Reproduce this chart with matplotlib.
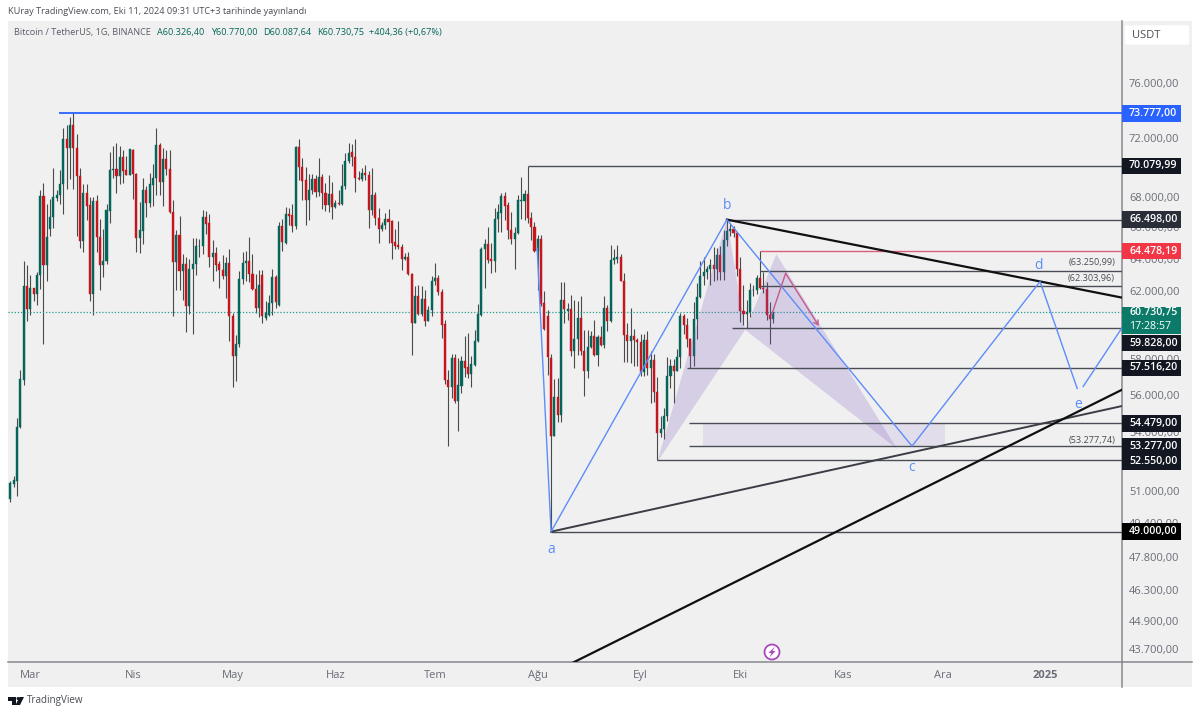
import numpy as np
import matplotlib
matplotlib.use('Agg')
import matplotlib.pyplot as plt
from matplotlib.lines import Line2D
from matplotlib.patches import Rectangle, Polygon, Ellipse, FancyBboxPatch
from matplotlib.ticker import NullLocator

plt.rcParams['font.family'] = ['Open Sans', 'DejaVu Sans']

# daily candles, Feb 24 to Oct 11 2024. days are counted from Mar 1
days = np.arange(-6, 225)
opens = [50570,51330,51480,54300,56820,62290,60950,62220,61800,62960,
         68080,63590,65890,66680,67940,68150,68830,71950,71320,72960,
         71320,69370,65110,68280,67470,61800,67740,65370,63590,63840,
         67080,69780,69850,69370,70680,69780,69440,71170,69500,65310,
         65760,68420,67600,68760,69230,71530,68960,70540,69850,67010,
         63780,65500,63210,63650,61130,63340,63650,64790,64790,66680,
         66280,64090,64350,63650,63280,62900,63720,60520,58180,58870,
         62720,63720,63840,63030,62160,61010,62960,60410,60580,61310,
         62840,61190,66090,64990,66880,66810,66090,71390,69990,69100,
         67810,68420,69170,68350,69300,68280,67470,68210,67340,67600,
         67540,68690,70400,71030,70680,69230,69170,69570,69440,67140,
         68150,66610,65890,66150,66550,66420,65050,64860,64730,63970,
         64090,63030,60110,61680,60640,61550,60230,60890,62650,62780,
         61980,60050,56820,56430,58060,55710,56480,57890,57550,57150,
         57660,59050,60580,64600,64920,63970,63840,66550,66940,68080,
         67470,65820,65240,65630,67740,67740,68210,66610,66020,64470,
         65240,61310,60520,58060,53810,55880,54950,61490,60830,60950,
         58470,59170,60410,58470,57320,58700,59340,58240,59280,58820,
         61010,60230,63910,63970,64090,62650,59420,59030,59360,59120,
         58970,57300,59130,57490,57970,56180,53960,54160,54870,57040,
         57640,57340,58130,60500,60000,59180,58190,60310,61650,62950,
         63200,63350,63580,63340,64260,63150,65170,65770,65860,65600,
         63330,60810,60650,60750,62070,62090,62820,62220,62130,60580,60326]
closes = [51380,51530,54300,56870,62290,60950,62220,61800,62960,68080,
          63590,65370,66680,68010,68150,68830,71950,71320,72960,71320,
          69370,65110,68280,67410,61800,67740,65370,63590,63840,67140,
          69780,69850,69370,70680,69710,69440,71250,69500,65310,65820,
          68420,67600,68830,69230,71530,68960,70540,69850,67010,63780,
          65500,63210,63650,61130,63340,63650,64790,64830,66680,66220,
          64090,64350,63590,63280,62900,63720,60520,58180,58870,62720,
          63720,63840,63030,62160,61010,62350,60520,60700,61310,62840,
          61370,66090,65050,66880,66750,66090,71390,69990,69030,67810,
          68420,69170,68350,69300,68280,67470,68210,67340,67600,67540,
          68690,70400,70960,70680,69230,69170,69570,69440,67140,68150,
          66610,65890,66150,66550,66350,64990,64790,64730,63970,64090,
          63030,60110,61680,60640,61550,60230,60890,62650,62780,61980,
          59990,56820,56430,58060,55660,56540,57890,57490,57150,57720,
          59050,60640,64600,64920,63910,63840,66550,67010,68080,67410,
          65820,65240,65630,67810,67810,68210,66610,66020,64470,65240,
          61250,59760,58120,53810,55880,54950,61490,60950,60950,58470,
          59170,60410,58470,57320,58700,59340,58240,59280,58820,61010,
          60230,63910,64030,64090,62650,59420,59030,59360,59120,58970,
          57300,59130,57490,57970,56180,53960,54160,54870,57040,57640,
          57340,58130,60500,60000,59180,58190,60310,61650,62950,63200,
          63350,63580,63340,64260,63150,65170,65770,65860,65600,63330,
          60810,60650,60750,62070,62090,62820,62220,62130,60580,60326,60731]
highs = [51480,51740,54790,57380,63840,63590,62960,62220,63150,68420,
         68890,67540,67870,69920,68420,69780,72745,72960,73540,73777,
         72310,69920,68830,68830,68010,68010,68150,66550,65890,67540,
         71030,71460,71670,71460,71170,70750,71250,71250,69570,67670,
         69230,68690,69570,70190,72745,71670,71320,71170,71170,67810,
         65820,66750,64280,64090,63970,65310,65310,65240,67140,67080,
         66880,65180,64730,63840,64220,64090,64600,60700,59400,63210,
         64410,64470,65370,64280,63030,63280,63280,61430,61740,63340,
         62960,66350,66550,67340,67270,67540,71460,71950,70610,69990,
         69500,69500,69440,70610,69500,68890,69440,68960,67810,68420,
         70190,70960,71670,71600,71950,69710,69920,70120,69710,69920,
         68350,67270,66350,66940,67210,66480,65890,66420,64920,64350,
         64410,63090,62290,62350,62290,62100,61130,62900,63720,62960,
         62160,60290,57380,58290,58290,58060,58180,59340,59520,58180,
         59700,61250,64730,65240,66020,64990,67270,67540,68280,68350,
         67670,67010,66020,68150,69300,68420,70080,67010,66350,65500,
         65500,62040,60890,58290,56870,56930,62590,62530,61310,61740,
         61490,61430,61680,59700,59700,59640,60290,59400,59930,61680,
         61190,64860,64600,64860,64280,63090,60110,61010,59760,59220,
         59460,59460,59640,58500,58300,56990,54850,55300,58120,58040,
         58000,58590,60670,60660,60400,59210,61320,62490,63870,64130,
         63560,64000,64750,64700,64810,65840,66498,66260,66080,65630,
         64130,62390,61470,62480,62370,63000,64478,63200,62540,61320,60770]
lows = [50420,51170,50720,54250,56540,60230,60580,61430,61190,62160,
        58870,62650,65440,65950,67740,67540,66880,68550,69170,68490,
        65440,64670,64410,66480,61430,60580,64410,62100,62840,63650,
        66280,69230,68280,68830,68890,69440,69440,67870,64410,64350,
        64920,66680,67340,67410,68150,68150,67410,69440,66940,60520,
        62100,62100,61490,59580,60640,59460,62960,64090,64280,65560,
        63470,62650,63210,62220,62720,61610,59050,56430,56760,58700,
        62410,62650,62530,62100,60700,60470,60110,60290,60520,60580,
        61010,61130,64470,64920,66150,65690,65890,69100,67810,66150,
        66480,68210,68010,68080,67210,67080,67010,66550,67270,67470,
        67470,68490,70260,70060,68350,69100,69030,69100,65950,66810,
        66150,64990,65760,65890,64990,63970,64600,64600,63280,63910,
        62960,58240,60110,60580,60520,59930,60230,60520,62350,61740,
        59230,56590,53290,55820,55600,54090,56100,56980,56930,56430,
        57610,58990,60520,62220,63720,63090,63150,65690,65690,66480,
        65240,64920,63340,65560,66550,66480,66280,65180,64410,62100,
        61130,59700,57100,49000,53790,54570,54570,60110,60290,58180,
        57490,58240,58240,55930,56930,58640,58180,57610,58760,58640,
        59640,60170,63650,63720,62600,57840,57840,57780,57610,57640,
        57040,57040,57100,55600,55620,52550,53740,53640,54590,56400,
        55550,57320,57500,59450,58700,57500,57610,59170,61570,62350,
        62760,62400,62600,62700,62670,62670,64820,65420,65370,62900,
        60160,59980,59830,60460,61700,61820,62130,61860,60300,58900,60088]
last_price = 60730.75

# axis labels
month_days = [0, 31, 61, 92, 122, 153, 184, 214, 245, 275, 306]
month_labels = ['Mar', 'Nis', 'May', 'Haz', 'Tem', 'Ağu', 'Eyl', 'Eki', 'Kas', 'Ara', '2025']
price_ticks = [76000, 72000, 68000, 66000, 64000, 62000, 58000, 56000, 54000,
               51000, 49400, 47800, 46300, 44900, 43700]
price_tick_labels = ['76.000,00', '72.000,00', '68.000,00', '66.000,00', '64.000,00',
                     '62.000,00', '58.000,00', '56.000,00', '54.000,00', '51.000,00',
                     '49.400,00', '47.800,00', '46.300,00', '44.900,00', '43.700,00']

# horizontal rays drawn on the chart: price and first day
ray_prices = [70079.99, 66498, 63250.99, 62303.96, 59828, 57516.2, 54479, 53277.74, 52550, 49000]
ray_days = [150, 210, 220, 220, 211.6, 198, 198.6, 198.6, 189, 157]
blue_ray = (73777, 8.7)
red_ray = (64478.19, 220)

# trend lines
trend_days_1 = [210, 329.1]
trend_prices_1 = [66498, 61610]
trend_days_2 = [157, 329.1]
trend_prices_2 = [49000, 55410]
trend_days_3 = [163.6, 329.1]
trend_prices_3 = [43107, 56300]

# blue a-b-c-d-e path
wave_days = [152.8, 157, 210, 265.8, 304.4, 315.6]
wave_prices = [64670, 49000, 66498, 53277, 62590, 56370]
wave_end_days = [317.4, 329.1]
wave_end_prices = [56480, 59820]
wave_names = ['a', 'b', 'c', 'd', 'e']
wave_name_days = [157, 210, 265.8, 303.8, 315.8]
wave_name_prices = [48170, 67450, 52150, 63560, 55500]

# harmonic pattern shapes
xab_days = [189, 210, 215.5]
xab_prices = [52450, 66498, 59700]
bcd_days = [215.5, 224.9, 261.3]
bcd_prices = [59700, 64280, 53130]
box_days = [202.8, 275.8]
box_prices = [53277, 54479]

# pink projection
proj_days = [223.5, 227.7, 237.7]
proj_prices = [60580, 63090, 59930]

# price tags on the scale: where the tag sits, its text, its colour
tag_prices = [73777, 70079.99, 66498, 64478.19, 58930, 57516.2, 54479, 53277, 52480, 49000]
tag_labels = ['73.777,00', '70.079,99', '66.498,00', '64.478,19', '59.828,00',
              '57.516,20', '54.479,00', '53.277,00', '52.550,00', '49.000,00']
tag_colors = ['#2962ff', '#131722', '#2a2e39', '#f23645', '#131722',
              '#131722', '#131722', '#131722', '#131722', '#000000']

note_labels = ['(63.250,99)', '(62.303,96)', '(53.277,74)']
note_prices = [63780, 62780, 53560]

W, H = 1200, 715
BG = '#f0f0f0'
GREEN = '#04665a'
RED = '#c5161d'
BLUE = '#5c8dfa'
TEXT = '#6a6d78'


def fx(x):
    return x / W


def fy(y):
    return 1 - y / H


fig = plt.figure(figsize=(12, 7.15), dpi=100, facecolor='white')
fig.add_artist(Rectangle((fx(8), fy(687)), 1184 / W, 666 / H, transform=fig.transFigure,
                         fc=BG, ec='none', zorder=-5))

ax = fig.add_axes([fx(8), fy(662), 1114 / W, 641 / H], facecolor='none')
ax.set_yscale('log')
ax.set_xlim(-6.7, 329.1)
ax.set_ylim(43133, 80762)
right_day = ax.get_xlim()[1]

# candles
o = np.array(opens, dtype=float)
c = np.array(closes, dtype=float)
up = c >= o
ax.vlines(days, lows, highs, color='#4a4a4a', lw=0.8, zorder=2)
colors = np.where(up, GREEN, RED)
ax.bar(days, np.abs(c - o), bottom=np.minimum(o, c), width=0.62, color=colors,
       edgecolor=colors, lw=0.3, zorder=3)

# shapes
ax.add_patch(Polygon(np.column_stack([xab_days, xab_prices]), fc='#7e57c2', alpha=0.22, ec='none', zorder=4))
ax.add_patch(Polygon(np.column_stack([bcd_days, bcd_prices]), fc='#7e57c2', alpha=0.22, ec='none', zorder=4))
ax.fill_between(box_days, box_prices[0], box_prices[1], color='#7e57c2', alpha=0.12, lw=0, zorder=4)

ax.axhline(last_price, color='#1f9e8a', lw=0.9, ls=(0, (1, 1.5)), zorder=2)

# rays and trend lines
for p, d in zip(ray_prices, ray_days):
    ax.hlines(p, d, right_day, color='#4a4d55', lw=1.0, zorder=5)
ax.hlines(blue_ray[0], blue_ray[1], right_day, color='#2962ff', lw=1.3, zorder=5)
ax.hlines(red_ray[0], red_ray[1], right_day, color='#d9607a', lw=1.0, zorder=5)
ax.plot(trend_days_1, trend_prices_1, color='#101010', lw=1.6, zorder=5)
ax.plot(trend_days_2, trend_prices_2, color='#3a3d45', lw=1.4, zorder=5)
ax.plot(trend_days_3, trend_prices_3, color='#101010', lw=1.6, zorder=5)

# blue wave
ax.plot(wave_days, wave_prices, color=BLUE, lw=1.0, zorder=6)
ax.plot(wave_end_days, wave_end_prices, color=BLUE, lw=1.0, zorder=6)
for name, d, p in zip(wave_names, wave_name_days, wave_name_prices):
    ax.text(d, p, name, color=BLUE, fontsize=10, ha='center', va='center', zorder=7)

# projection arrow
ax.plot(proj_days[:2], proj_prices[:2], color='#c65a8c', lw=1.0, zorder=6)
ax.annotate('', xy=(proj_days[2], proj_prices[2]), xytext=(proj_days[1], proj_prices[1]),
            arrowprops=dict(arrowstyle='->,head_length=0.3,head_width=0.18', color='#c65a8c',
                            lw=1.0, shrinkA=0, shrinkB=0), zorder=6)

# notes at the end of the rays
for txt, p in zip(note_labels, note_prices):
    ax.text(right_day - 2.1, p, txt, color='#4a4d55', fontsize=6.6, ha='right', va='center', zorder=7)

# axes
ax.set_xticks(month_days)
ax.set_xticklabels(month_labels, fontsize=8, color=TEXT)
ax.get_xticklabels()[-1].set_fontweight('bold')
ax.tick_params(axis='x', length=0, pad=6)
ax.yaxis.tick_right()
ax.set_yticks(price_ticks)
ax.set_yticklabels(price_tick_labels, fontsize=8.0, color=TEXT)
ax.yaxis.set_minor_locator(NullLocator())
ax.tick_params(axis='y', which='both', length=0, pad=5)
for s in ['top', 'left']:
    ax.spines[s].set_visible(False)
for s in ['right', 'bottom']:
    ax.spines[s].set_color('#85888f')
    ax.spines[s].set_linewidth(1.1)

# price tags, half height is given in log units of the scale
tag_tr = ax.get_yaxis_transform()
half = 8.3 / 1022
tag_w = 59 / 1114
for p, txt, col in zip(tag_prices, tag_labels, tag_colors):
    lo, hi = p * np.exp(-half), p * np.exp(half)
    ax.add_patch(Rectangle((1, lo), tag_w, hi - lo, transform=tag_tr, fc=col, ec='none',
                           clip_on=False, zorder=10))
    ax.text(1 + 7 / 1114, p, txt, transform=tag_tr, color='white', fontsize=7.7,
            fontweight='semibold', va='center', ha='left', clip_on=False, zorder=11)

# last price tag has the countdown under it
lo, hi = 59470, 61060
ax.add_patch(Rectangle((1, lo), tag_w, hi - lo, transform=tag_tr, fc='#0b7a68', ec='none',
                       clip_on=False, zorder=10))
ax.text(1 + 7 / 1114, 60730, '60.730,75', transform=tag_tr, color='white', fontsize=7.7,
        fontweight='semibold', va='center', clip_on=False, zorder=11)
ax.text(1 + 7 / 1114, 59880, '17:28:57', transform=tag_tr, color='white', fontsize=7.7,
        va='center', clip_on=False, zorder=11)

# frame pieces outside the axes
fig.add_artist(Line2D([fx(1122), fx(1122)], [fy(662), fy(687)], color='#85888f', lw=1.1))
fig.add_artist(Line2D([fx(1122), fx(1192)], [fy(662), fy(662)], color='#85888f', lw=1.1))

# unit button
fig.add_artist(FancyBboxPatch((fx(1126), fy(44)), 62 / W, 18 / H,
                              boxstyle='round,pad=0.001,rounding_size=0.002',
                              transform=fig.transFigure, fc='white', ec='none'))
fig.text(fx(1132), fy(35), 'USDT', fontsize=8, color='#4a4d55', va='center')

# header and legend
fig.text(fx(8), fy(11.5), 'KUray TradingView.com, Eki 11, 2024 09:31 UTC+3 tarihinde yayınlandı',
         fontsize=6.6, color='#4a4d55', va='center')
fig.text(fx(14), fy(32), 'Bitcoin / TetherUS, 1G, BINANCE', fontsize=6.6, color='#5a5d68', va='center')
fig.text(fx(157), fy(32), 'A60.326,40', fontsize=6.6, color=GREEN, va='center')
fig.text(fx(211), fy(32), 'Y60.770,00', fontsize=6.6, color=GREEN, va='center')
fig.text(fx(263), fy(32), 'D60.087,64', fontsize=6.6, color=GREEN, va='center')
fig.text(fx(317), fy(32), 'K60.730,75', fontsize=6.6, color=GREEN, va='center')
fig.text(fx(369), fy(32), '+404,36 (+0,67%)', fontsize=6.6, color=GREEN, va='center')

# flash icon
fig.add_artist(Ellipse((fx(772), fy(652)), 15 / W, 15 / H, transform=fig.transFigure,
                       fc='white', ec='#ab47bc', lw=1.3))
bolt = [(775, 646.5), (768.5, 653), (771.5, 653), (769.5, 657.5), (775.5, 651), (772.5, 651)]
fig.add_artist(Polygon([(fx(x), fy(y)) for x, y in bolt], transform=fig.transFigure,
                       fc='#ab47bc', ec='none'))

# TradingView footer
logo_t = [(8, 697), (16, 697), (16, 705), (12, 705), (12, 701), (8, 701)]
logo_v = [(19.5, 697), (24, 697), (20, 705), (15.5, 705)]
for pts in (logo_t, logo_v):
    fig.add_artist(Polygon([(fx(x), fy(y)) for x, y in pts], transform=fig.transFigure,
                           fc='#131722', ec='none'))
fig.add_artist(Ellipse((fx(18), fy(698.5)), 3 / W, 3 / H, transform=fig.transFigure,
                       fc='#131722', ec='none'))
fig.text(fx(26.5), fy(701), 'TradingView', fontsize=7.1, color='#4a4d55', va='center')

fig.savefig('out.png', dpi=100)
